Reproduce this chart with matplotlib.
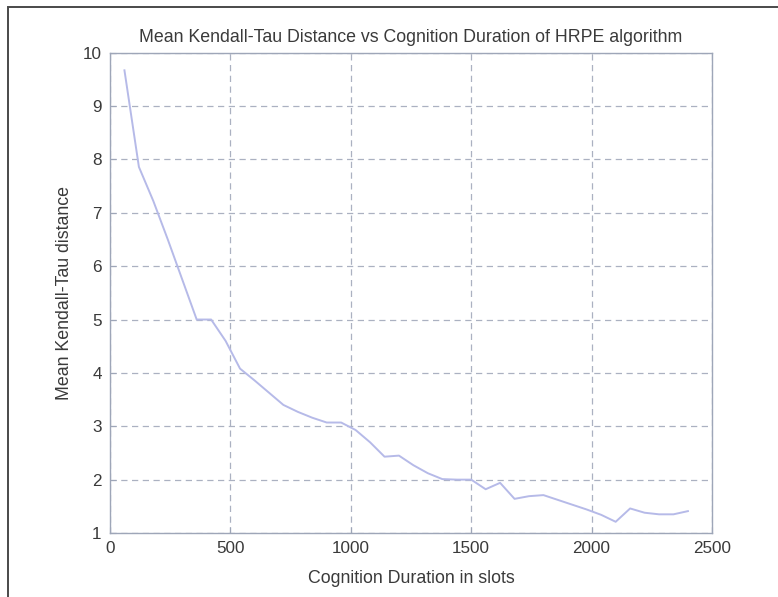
import matplotlib
matplotlib.use("Agg")
import matplotlib.pyplot as plt
from matplotlib.patches import Rectangle

plt.rcParams["font.family"] = ["Liberation Sans", "DejaVu Sans"]

# cognition duration (slots) and mean Kendall-Tau distance of HRPE
durations = [60, 120, 180, 240, 300, 360, 420, 480, 540, 600,
             660, 720, 780, 840, 900, 960, 1020, 1080, 1140, 1200,
             1260, 1320, 1380, 1440, 1500, 1560, 1620, 1680, 1740, 1800,
             1860, 1920, 1980, 2040, 2100, 2160, 2220, 2280, 2340, 2400]
mean_ktd = [9.67, 7.86, 7.22, 6.50, 5.75, 5.00, 5.00, 4.60, 4.08, 3.86,
            3.63, 3.40, 3.27, 3.16, 3.07, 3.07, 2.93, 2.70, 2.43, 2.45,
            2.27, 2.12, 2.01, 2.00, 2.00, 1.82, 1.94, 1.64, 1.69, 1.71,
            1.62, 1.53, 1.44, 1.34, 1.21, 1.46, 1.38, 1.35, 1.35, 1.41]

xticks = [0, 500, 1000, 1500, 2000, 2500]
yticks = [1, 2, 3, 4, 5, 6, 7, 8, 9, 10]

TEXT = "#3a3a3a"
FRAME = "#9ea6b8"
GRID = "#abb1c1"
LINE = "#b6bae8"

fig = plt.figure(figsize=(7.78, 5.97), dpi=100)
fig.patch.set_facecolor("white")

# outer border of the figure window
fig.patches.append(Rectangle((8 / 778, -0.05), 1.1, 1 - 7 / 597 + 0.05,
                             transform=fig.transFigure, fill=False,
                             edgecolor="#4a4a4a", linewidth=1.4))

ax = fig.add_axes([110 / 778, 1 - 533 / 597, (712 - 110) / 778, (533 - 52.7) / 597])
ax.plot(durations, mean_ktd, color=LINE, linewidth=1.4)

ax.set_xlim(0, 2500)
ax.set_ylim(1, 10)
ax.set_xticks(xticks)
ax.set_yticks(yticks)
ax.tick_params(direction="in", length=4, color=FRAME, labelsize=12.3,
               labelcolor=TEXT, pad=6)
for s in ax.spines.values():
    s.set_color(FRAME)
    s.set_linewidth(1.0)

ax.grid(True, color=GRID, linestyle=(0, (5, 3.6)), linewidth=0.9)

ax.set_title("Mean Kendall-Tau Distance vs Cognition Duration of HRPE algorithm",
             fontsize=12.8, color=TEXT, pad=8)
ax.set_xlabel("Cognition Duration in slots", fontsize=12.8, color=TEXT, labelpad=10)
ax.set_ylabel("Mean Kendall-Tau distance", fontsize=12.8, color=TEXT, labelpad=7)

fig.savefig("out.png", dpi=100)
